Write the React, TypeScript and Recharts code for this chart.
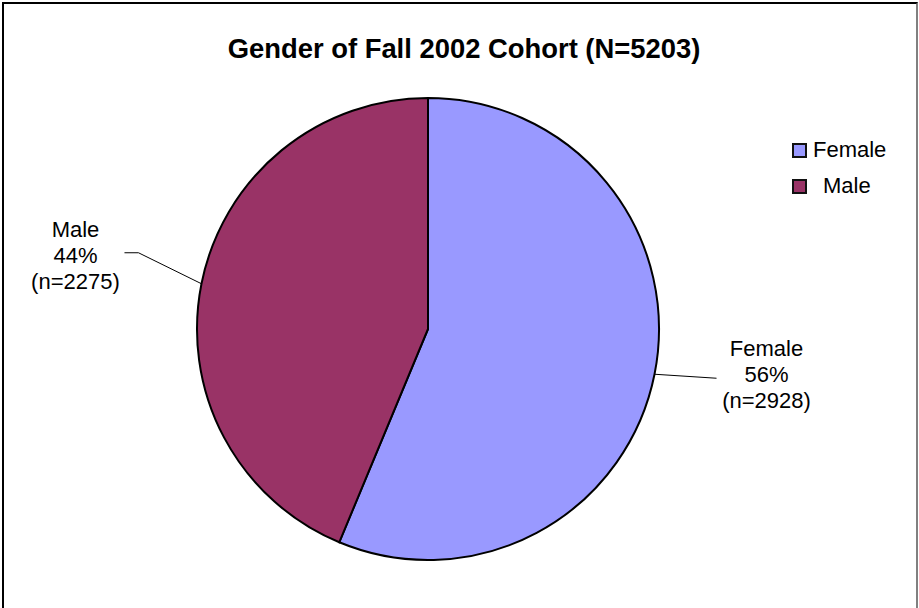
import React from "react";
import { Cell, Legend, Pie, PieChart } from "recharts";

const categories = ["Female", "Male"];
const counts = [2928, 2275];
const colors = ["#9999FF", "#993366"];

const total = counts.reduce((a, b) => a + b, 0);
const data = categories.map((name, i) => ({ name, value: counts[i] }));

const RADIAN = Math.PI / 180;
const FONT = '"Liberation Sans", Arial, sans-serif';

// where each label sits relative to the point where its slice's mid-angle meets the rim
const labelLayout = [
  { line: [[62, 4]], textDx: 112, textDy: -18 },
  { line: [[-63, -31], [-77, -31]], textDx: -126, textDy: -47 },
];

function renderLabel(props: any) {
  const { cx, cy, midAngle, outerRadius, index, name, value } = props;
  const ex = cx + outerRadius * Math.cos(-midAngle * RADIAN);
  const ey = cy + outerRadius * Math.sin(-midAngle * RADIAN);
  const layout = labelLayout[index];
  const pts = [[ex, ey], ...layout.line.map(([dx, dy]) => [ex + dx, ey + dy])];
  const pct = Math.round((value / total) * 100);
  const tx = ex + layout.textDx;
  const ty = ey + layout.textDy;
  return (
    <g>
      <polyline
        points={pts.map((p) => p.join(",")).join(" ")}
        fill="none"
        stroke="#000"
        strokeWidth={1}
      />
      <text x={tx} y={ty} textAnchor="middle" fontFamily={FONT} fontSize={22} fill="#000">
        <tspan x={tx} dy={0}>{name}</tspan>
        <tspan x={tx} dy={26}>{pct}%</tspan>
        <tspan x={tx} dy={26}>(n={value})</tspan>
      </text>
    </g>
  );
}

function renderLegend(props: any) {
  const { payload } = props;
  return (
    <div style={{ fontFamily: FONT, fontSize: 22, color: "#000" }}>
      {payload.map((entry: any, i: number) => (
        <div
          key={entry.value}
          style={{ display: "flex", alignItems: "center", height: 36, lineHeight: "36px" }}
        >
          <span
            style={{
              display: "inline-block",
              width: 15,
              height: 15,
              boxSizing: "border-box",
              border: "2px solid #111",
              background: colors[i],
              marginRight: i === 0 ? 6 : 16,
            }}
          />
          <span>{entry.value}</span>
        </div>
      ))}
    </div>
  );
}

export default function App() {
  return (
    <div
      style={{
        position: "absolute",
        left: 0,
        top: 0,
        width: 919,
        height: 608,
        overflow: "hidden",
        background: "#fff",
      }}
    >
      <div
        style={{
          position: "absolute",
          left: 2,
          top: 2,
          width: 916,
          height: 640,
          boxSizing: "border-box",
          borderLeft: "2px solid #000",
          borderTop: "2px solid #000",
          borderRight: "2px solid #808080",
        }}
      />
      <div
        style={{
          position: "absolute",
          left: 0,
          top: 35,
          width: 928,
          textAlign: "center",
          fontFamily: FONT,
          fontWeight: "bold",
          fontSize: 27.4,
          lineHeight: "27px",
          color: "#000",
        }}
      >
        Gender of Fall 2002 Cohort (N=5203)
      </div>
      <div style={{ position: "absolute", left: 0, top: 0 }}>
        <PieChart width={919} height={608} margin={{ top: 0, right: 0, bottom: 0, left: 0 }}>
          <Pie
            data={data}
            dataKey="value"
            nameKey="name"
            cx={428}
            cy={329}
            outerRadius={231}
            startAngle={90}
            endAngle={-270}
            stroke="#000"
            strokeWidth={2}
            label={renderLabel}
            labelLine={false}
            isAnimationActive={false}
          >
            {data.map((d, i) => (
              <Cell key={d.name} fill={colors[i]} />
            ))}
          </Pie>
          <Legend
            layout="vertical"
            align="right"
            verticalAlign="top"
            content={renderLegend}
            wrapperStyle={{ position: "absolute", left: 792, top: 132, width: 120 }}
          />
        </PieChart>
      </div>
    </div>
  );
}
